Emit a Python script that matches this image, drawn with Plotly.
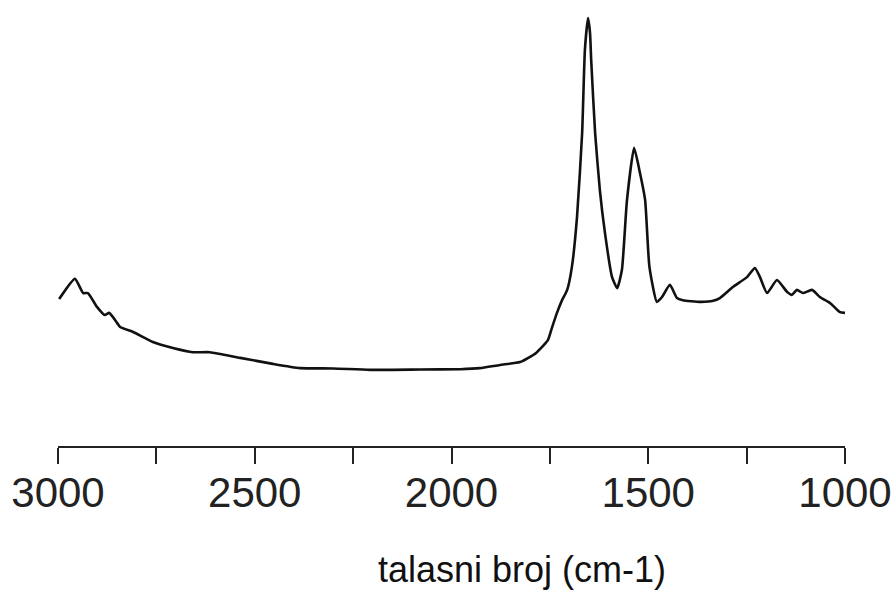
import plotly.graph_objects as go

# IR spectrum: wavenumber (cm-1) and relative absorbance
wavenumber = [2997, 2957, 2936, 2924, 2901, 2881, 2870, 2855, 2842, 2809, 2759, 2708,
              2657, 2614, 2537, 2454, 2385, 2301, 2207, 2080, 1978, 1928, 1877, 1826,
              1785, 1755, 1745, 1732, 1719, 1706, 1694, 1681, 1668, 1661, 1653, 1648,
              1645, 1635, 1623, 1610, 1592, 1579, 1567, 1554, 1536, 1521, 1508, 1497,
              1478, 1465, 1445, 1427, 1412, 1368, 1335, 1318, 1285, 1249, 1229, 1216,
              1198, 1173, 1147, 1135, 1122, 1107, 1084, 1064, 1038, 1013, 1000]
absorbance = [0.206, 0.263, 0.223, 0.223, 0.184, 0.161, 0.167, 0.147, 0.127, 0.113, 0.085, 0.068,
              0.056, 0.056, 0.040, 0.023, 0.011, 0.010, 0.006, 0.007, 0.008, 0.011, 0.020, 0.028,
              0.054, 0.090, 0.124, 0.167, 0.203, 0.232, 0.297, 0.438, 0.675, 0.910, 1.000, 0.958,
              0.881, 0.675, 0.514, 0.393, 0.268, 0.237, 0.288, 0.486, 0.633, 0.562, 0.486, 0.297,
              0.198, 0.212, 0.246, 0.209, 0.203, 0.198, 0.201, 0.209, 0.240, 0.268, 0.294, 0.268,
              0.223, 0.260, 0.226, 0.218, 0.232, 0.223, 0.232, 0.212, 0.195, 0.169, 0.167]

tick_values = [3000, 2750, 2500, 2250, 2000, 1750, 1500, 1250, 1000]
tick_text = ["3000", "", "2500", "", "2000", "", "1500", "", "1000"]
x_title = "talasni broj (cm-1)"

FONT = "Liberation Sans, Arial, sans-serif"

fig = go.Figure()
fig.add_trace(go.Scatter(
    x=wavenumber, y=absorbance, mode="lines",
    line=dict(color="#111111", width=2.6, shape="spline", smoothing=0.5),
    hoverinfo="skip", showlegend=False,
))

fig.update_layout(
    width=893, height=596,
    margin=dict(l=58, r=48, t=10, b=150),
    paper_bgcolor="white", plot_bgcolor="white",
    xaxis=dict(
        range=[3000, 1000], showgrid=False, zeroline=False, automargin=False,
        showline=True, linecolor="#222222", linewidth=2,
        ticks="outside", ticklen=16, tickwidth=1.5, tickcolor="#222222",
        tickvals=tick_values, ticktext=tick_text,
        tickfont=dict(family=FONT, size=42, color="#222222"),
        ticklabelstandoff=-7,
    ),
    yaxis=dict(range=[-0.209, 1.0226], visible=False, automargin=False),
    annotations=[dict(
        text=x_title, xref="paper", yref="paper", x=0.589, y=-0.2844,
        xanchor="center", yanchor="middle", showarrow=False,
        font=dict(family=FONT, size=36, color="#111111"),
    )],
)

fig.write_html("out.html")
